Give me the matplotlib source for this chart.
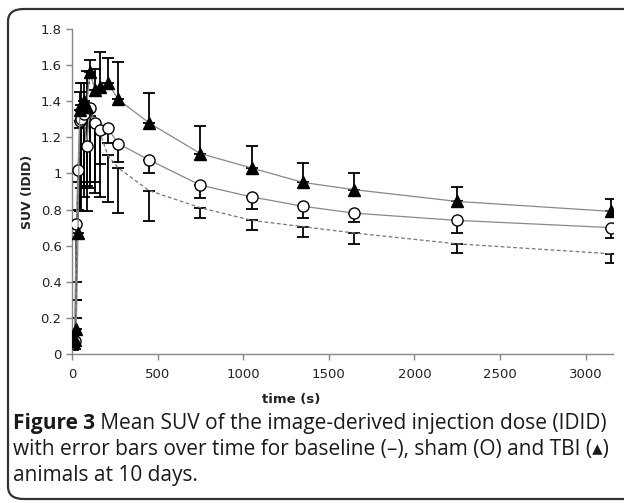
import matplotlib.pyplot as plt
from matplotlib.patches import FancyBboxPatch

# time frames (s)
t = [5, 15, 25, 35, 45, 55, 70, 85, 105, 135, 165, 210, 270,
     450, 750, 1050, 1350, 1650, 2250, 3150]

# TBI (triangles), upper error bars
tbi = [0.07, 0.08, 0.14, 0.67, 1.35, 1.38, 1.40, 1.37, 1.56, 1.46, 1.48, 1.50, 1.41,
       1.28, 1.11, 1.03, 0.95, 0.91, 0.845, 0.79]
tbi_err = [0.02, 0.05, 0.16, 0.13, 0.10, 0.12, 0.10, 0.20, 0.07, 0.12, 0.19, 0.14, 0.21,
           0.165, 0.155, 0.12, 0.11, 0.09, 0.08, 0.07]

# sham (circles), lower error bars
sham = [0.06, 0.07, 0.72, 1.02, 1.29, 1.30, 1.33, 1.15, 1.36, 1.28, 1.24, 1.25, 1.165,
        1.075, 0.935, 0.87, 0.818, 0.78, 0.74, 0.70]
sham_err = [0.03, 0.02, 0.42, 0.22, 0.50, 0.38, 0.40, 0.36, 0.41, 0.33, 0.19, 0.08, 0.10,
            0.07, 0.07, 0.067, 0.065, 0.05, 0.07, 0.06]

# baseline (dashed), lower error bars
base = [0.05, 0.06, 0.40, 0.95, 1.25, 1.30, 1.32, 1.33, 1.32, 1.28, 1.22, 1.10, 1.03,
        0.905, 0.81, 0.74, 0.705, 0.67, 0.61, 0.555]
base_err = [0.03, 0.03, 0.20, 0.15, 0.46, 0.51, 0.45, 0.40, 0.40, 0.39, 0.35, 0.26, 0.25,
            0.17, 0.055, 0.055, 0.055, 0.06, 0.05, 0.05]

yticks = [0, 0.2, 0.4, 0.6, 0.8, 1, 1.2, 1.4, 1.6, 1.8]
ytick_labels = ['0', '0.2', '0.4', '0.6', '0.8', '1', '1.2', '1.4', '1.6', '1.8']
xticks = [0, 500, 1000, 1500, 2000, 2500, 3000]

caption = [
    ('Figure 3', ' Mean SUV of the image-derived injection dose (IDID)'),
    ('', 'with error bars over time for baseline (\u2013), sham (O) and TBI (\u25b4)'),
    ('', 'animals at 10 days.'),
]

plt.rcParams['font.family'] = ['DejaVu Sans']

fig = plt.figure(figsize=(6.24, 5.03), dpi=100)
ax = fig.add_axes([72 / 624, 1 - 354 / 503, (613 - 72) / 624, (354 - 29) / 503])

# rounded frame around the figure
frame = FancyBboxPatch((8 / 624, 4 / 503), 640 / 624, 490 / 503,
                       boxstyle='round,pad=0,rounding_size=0.025',
                       transform=fig.transFigure, fill=False,
                       edgecolor='#333333', linewidth=1.6, clip_on=False)
fig.patches.append(frame)

zero = [0] * len(t)
ax.errorbar(t, base, yerr=[base_err, zero], fmt='none', ecolor='black',
            elinewidth=1.3, capsize=4, capthick=1.3, zorder=2)
ax.errorbar(t, sham, yerr=[sham_err, zero], fmt='none', ecolor='black',
            elinewidth=1.3, capsize=4, capthick=1.3, zorder=2)
ax.errorbar(t, tbi, yerr=[zero, tbi_err], fmt='none', ecolor='black',
            elinewidth=1.3, capsize=4, capthick=1.3, zorder=2)

ax.plot(t, base, color='#777777', linestyle=(0, (3, 2)), linewidth=0.9, zorder=3)
ax.plot(t, sham, color='#888888', linewidth=0.9, marker='o', markersize=8,
        markerfacecolor='white', markeredgecolor='black', markeredgewidth=1.0, zorder=4)
ax.plot(t, tbi, color='#888888', linewidth=0.9, marker='^', markersize=9,
        markerfacecolor='black', markeredgecolor='black', zorder=5)

ax.set_xlim(0, 3160)
ax.set_ylim(0, 1.8)
ax.set_xticks(xticks)
ax.set_yticks(yticks)
ax.set_yticklabels(ytick_labels)
ax.tick_params(axis='both', labelsize=9.5, color='#888888', length=4, width=1,
               labelcolor='#222222')
ax.tick_params(axis='x', pad=6)
for side in ['top', 'right']:
    ax.spines[side].set_visible(False)
for side in ['left', 'bottom']:
    ax.spines[side].set_color('#888888')
    ax.spines[side].set_linewidth(1)

ax.set_ylabel('SUV (IDID)', fontsize=9, fontweight='bold', labelpad=5, color='#222222')
fig.text(291 / 624, 1 - 399 / 503, 'time (s)', fontsize=9.5, fontweight='bold',
         ha='center', va='center', color='#222222')

# caption
cap_font = ['Open Sans', 'DejaVu Sans']
ys = [424, 450, 475]
fig.canvas.draw()
for (bold, rest), y in zip(caption, ys):
    x = 13 / 624
    if bold:
        tb = fig.text(x, 1 - y / 503, bold, fontsize=15, fontweight='bold',
                      family=cap_font, va='center', ha='left', color='#1a1a1a')
        bb = tb.get_window_extent(renderer=fig.canvas.get_renderer())
        x = bb.x1 / fig.bbox.width
    fig.text(x, 1 - y / 503, rest, fontsize=15, family=cap_font,
             va='center', ha='left', color='#1a1a1a')

fig.savefig('out.png', dpi=100)
